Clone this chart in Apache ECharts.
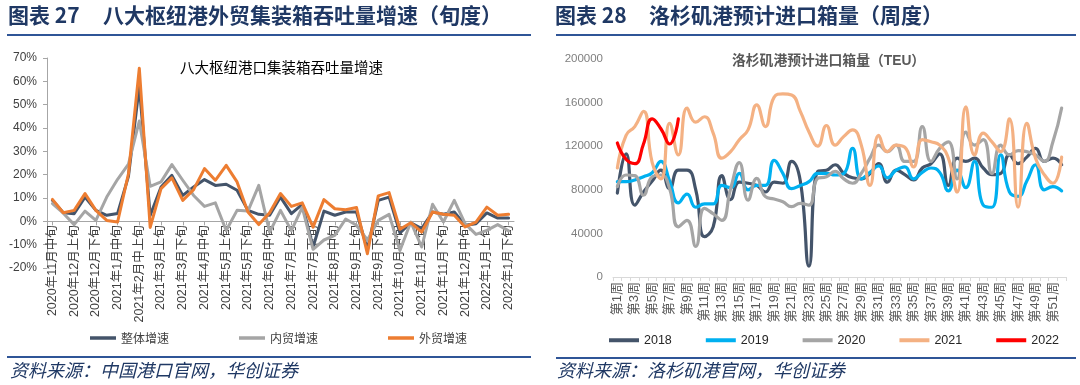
<!DOCTYPE html>
<html>
<head>
<meta charset="utf-8">
<script src="https://cdn.jsdelivr.net/npm/echarts@6/dist/echarts.min.js"></script>
<style>
html,body{margin:0;padding:0;background:#fff;}
#c{width:1080px;height:385px;}
</style>
</head>
<body>
<div id="c"></div>
<script>
// ---------- Left chart data (percent) ----------
const tenDayLabels = [
  '2020年11月中旬','2020年11月下旬','2020年12月上旬','2020年12月中旬','2020年12月下旬',
  '2021年1月上旬','2021年1月中旬','2021年1月下旬','2021年2月中上旬','2021年2月下旬',
  '2021年3月上旬','2021年3月中旬','2021年3月下旬','2021年4月上旬','2021年4月中旬',
  '2021年4月下旬','2021年5月上旬','2021年5月中旬','2021年5月下旬','2021年6月上旬',
  '2021年6月中旬','2021年6月下旬','2021年7月上旬','2021年7月中旬','2021年7月下旬',
  '2021年8月上旬','2021年8月中旬','2021年8月下旬','2021年9月上旬','2021年9月中旬',
  '2021年9月下旬','2021年10月上旬','2021年10月中旬','2021年10月下旬','2021年11月上旬',
  '2021年11月中旬','2021年11月下旬','2021年12月上旬','2021年12月中旬','2021年12月下旬',
  '2022年1月上旬','2022年1月中旬','2022年1月下旬'
];
const overallGrowth = [9, 3.7, 3.3, 10.4, 4.7, 2.6, 3.4, 19.3, 58, 2.5, 14.7, 19.7, 11.1, 14.7, 17.9,
  15.4, 15.9, 13.3, 4.7, 3, 2.6, 10.4, 3.3, 7.3, -11, 4.4, 2.6, 4, 4, -12, 9, 10.4, -5, -0.6, -3.1,
  4, 3, 4, -1.7, -1, 3.6, 1.4, 1.4];
const domesticGrowth = [7.6, 3.5, -1.4, 4.4, 0.4, 10.4, 18, 24.5, 43, 15, 16.9, 24.3, 17.6, 11.1, 6.4,
  7.9, -3.9, 4.7, 4.4, 15.4, -4.6, 4.7, -4, 6, -12, -8, -6, 1, -1.7, -8, 0.4, 3, -12.5, -0.3, -11,
  7.3, -0.3, 9, -1, -5.6, -3.9, -1.4, -4.1];
const foreignGrowth = [9.4, 3.7, 4.7, 11.9, 4.7, 0.4, -0.3, 20.4, 65.6, -2.6, 14, 18.6, 9, 13.6, 22.6,
  17.6, 24, 16.9, 4, -1.4, 3.7, 11.9, 6.4, 7.9, -2.5, 9.3, 5.4, 5, 5.9, -13.9, 10.9, 12.3, -3.4, -0.6, -4.6,
  4, 3, 2.6, -2.4, -0.3, 6.1, 2.6, 3];
const leftSeriesNames = ['整体增速', '内贸增速', '外贸增速'];
const leftYMin = -20, leftYMax = 70, leftYStep = 10;

// ---------- Right chart data (TEU) ----------
const weekLabels = ['第1周','第2周','第3周','第4周','第5周','第6周','第7周','第8周','第9周','第10周',
  '第11周','第12周','第13周','第14周','第15周','第16周','第17周','第18周','第19周','第20周',
  '第21周','第22周','第23周','第24周','第25周','第26周','第27周','第28周','第29周','第30周',
  '第31周','第32周','第33周','第34周','第35周','第36周','第37周','第38周','第39周','第40周',
  '第41周','第42周','第43周','第44周','第45周','第46周','第47周','第48周','第49周','第50周',
  '第51周','第52周'];
const teu2018 = [77000, 113000, 66000, 78000, 88000, 98000, 81000, 98000, 98000, 80000, 37000, 46000, 93000,
  71000, 87000, 86000, 84000, 78000, 87000, 86000, 106000, 88000, 10000, 97000, 98000, 103000,
  95000, 91000, 90000, 95000, 104000, 87000, 98000, 94000, 89000, 100000, 104000, 113000, 84000,
  109000, 106000, 109000, 100000, 94000, 95000, 112000, 104000, 110000, 118000, 106000, 109000, 103000];
const teu2019 = [87500, 87500, 89000, 92000, 95700, 106000, 88000, 68000, 76000, 64000, 67000, 67000, 84000,
  82000, 95000, 80000, 84000, 84000, 107000, 95000, 81000, 84000, 87500, 95000, 95000, 93600,
  95000, 118000, 90000, 96000, 102000, 91000, 98000, 101000, 90000, 96000, 100000, 96000, 79000,
  98000, 82000, 106000, 66000, 64000, 112000, 78000, 74000, 88000, 103000, 80000, 83000, 79000];
const teu2020 = [83000, 93600, 93000, 75000, 92000, 93600, 81000, 46000, 52000, 28000, 63000, 58000, 52000,
  81000, 105000, 70600, 90500, 73700, 71500, 69000, 64500, 67600, 66000, 90500, 92000, 97000,
  90000, 86000, 95000, 109000, 121000, 115000, 121000, 106000, 106000, 138000, 106000, 118000, 124000,
  90000, 133000, 121000, 126000, 95000, 121000, 112000, 116000, 115000, 112000, 106000, 124000, 155000];
const teu2021 = [100000, 130000, 138000, 152000, 105000, 90000, 141000, 112000, 155000, 142000, 147000, 132000, 109000,
  115000, 126000, 135000, 158000, 138000, 165000, 168000, 167000, 152000, 133000, 120000, 139000, 121000,
  129000, 135000, 121000, 84000, 130000, 115000, 121000, 119000, 101000, 126000, 124000, 121000, 109000,
  78000, 156000, 112000, 132000, 124000, 115000, 145000, 64000, 141000, 109000, 94000, 86000, 110000];
const teu2022 = [123000, 108000, 104000, 122000, 145000, 136000, 122000, 145000];
const rightSeriesNames = ['2018', '2019', '2020', '2021', '2022'];
const rightYMin = 0, rightYMax = 200000, rightYStep = 40000;

// ---------- Styles ----------
const FONT = "'Liberation Sans', 'Noto Sans CJK SC', sans-serif";
const CJK = "'Noto Sans CJK SC', sans-serif";
const HEAD = '#1F3864';
const RULE = '#2F5597';
const leftColors = ['#44546A', '#A5A5A5', '#ED7D31'];
const rightColors = ['#44546A', '#00B0F0', '#A5A5A5', '#F4B183', '#FF0000'];

const chart = echarts.init(document.getElementById('c'), null, {renderer: 'canvas'});

function lineSeries(name, data, color, xi, yi, smooth, width) {
  return {
    name, type: 'line', data, xAxisIndex: xi, yAxisIndex: yi,
    smooth: smooth, symbol: 'none', showSymbol: false, clip: false,
    lineStyle: {color, width: width, join: 'round', cap: 'round'},
    itemStyle: {color}, animation: false
  };
}

const option = {
  animation: false,
  textStyle: {fontFamily: FONT},
  grid: [
    {left: 47, top: 58, width: 467, height: 210},
    {left: 613, top: 59, width: 453, height: 218}
  ],
  xAxis: [
    {
      type: 'category', gridIndex: 0, data: tenDayLabels, boundaryGap: true, position: 'bottom',
      offset: -46.7,
      axisLine: {show: true, onZero: false, lineStyle: {color: '#A6A6A6', width: 1}},
      axisTick: {show: true, interval: 1, alignWithLabel: true, length: 4, lineStyle: {color: '#A6A6A6'}},
      axisLabel: {interval: 1, rotate: 90, fontSize: 12.5, color: '#404040', margin: 4, fontFamily: FONT},
      splitLine: {show: false}
    },
    {
      type: 'category', gridIndex: 1, data: weekLabels, boundaryGap: true,
      axisLine: {show: true, lineStyle: {color: '#D9D9D9', width: 1}},
      axisTick: {show: true, interval: 0, length: 4, lineStyle: {color: '#D9D9D9'}},
      axisLabel: {interval: 1, rotate: 90, fontSize: 13, color: '#595959', margin: 5, fontFamily: FONT},
      splitLine: {show: false}
    }
  ],
  yAxis: [
    {
      type: 'value', gridIndex: 0, min: leftYMin, max: leftYMax, interval: leftYStep,
      axisLine: {show: true, lineStyle: {color: '#A6A6A6'}},
      axisTick: {show: true, length: 4, lineStyle: {color: '#A6A6A6'}},
      axisLabel: {formatter: '{value}%', fontSize: 12, color: '#404040', margin: 10, fontFamily: FONT},
      splitLine: {show: false}
    },
    {
      type: 'value', gridIndex: 1, min: rightYMin, max: rightYMax, interval: rightYStep,
      axisLine: {show: false}, axisTick: {show: false},
      axisLabel: {formatter: function (v) { return String(v); }, fontSize: 11.5, color: '#7F7F7F', margin: 10, fontFamily: FONT},
      splitLine: {show: false}
    }
  ],
  legend: [
    {
      data: leftSeriesNames, left: 85, top: 327, orient: 'horizontal',
      icon: 'rect', itemWidth: 26, itemHeight: 3.5, itemGap: 70,
      textStyle: {fontSize: 12, color: '#404040', fontFamily: CJK}
    },
    {
      data: rightSeriesNames, left: 604, top: 329, orient: 'horizontal',
      icon: 'rect', itemWidth: 30, itemHeight: 4, itemGap: 34,
      textStyle: {fontSize: 12.5, color: '#262626', fontFamily: FONT}
    }
  ],
  series: [
    lineSeries(leftSeriesNames[0], overallGrowth, leftColors[0], 0, 0, false, 3),
    lineSeries(leftSeriesNames[1], domesticGrowth, leftColors[1], 0, 0, false, 3),
    lineSeries(leftSeriesNames[2], foreignGrowth, leftColors[2], 0, 0, false, 3),
    lineSeries(rightSeriesNames[0], teu2018, rightColors[0], 1, 1, 0.5, 3.2),
    lineSeries(rightSeriesNames[1], teu2019, rightColors[1], 1, 1, 0.5, 3.2),
    lineSeries(rightSeriesNames[2], teu2020, rightColors[2], 1, 1, 0.5, 3.2),
    lineSeries(rightSeriesNames[3], teu2021, rightColors[3], 1, 1, 0.5, 3.2),
    lineSeries(rightSeriesNames[4], teu2022, rightColors[4], 1, 1, 0.5, 3.2)
  ],
  graphic: [
    {type: 'text', left: 8, top: 5, style: {text: '图表 27', font: 'bold 21px ' + CJK, fill: HEAD}},
    {type: 'text', left: 103, top: 5, style: {text: '八大枢纽港外贸集装箱吞吐量增速（旬度）', font: 'bold 21px ' + CJK, fill: HEAD}},
    {type: 'text', left: 555, top: 5, style: {text: '图表 28', font: 'bold 21px ' + CJK, fill: HEAD}},
    {type: 'text', left: 649, top: 5, style: {text: '洛杉矶港预计进口箱量（周度）', font: 'bold 21px ' + CJK, fill: HEAD}},
    {type: 'line', shape: {x1: 7, y1: 35, x2: 531, y2: 35}, style: {stroke: RULE, lineWidth: 2}},
    {type: 'line', shape: {x1: 556, y1: 35, x2: 1076, y2: 35}, style: {stroke: RULE, lineWidth: 2}},
    {type: 'text', left: 180, top: 60, style: {text: '八大枢纽港口集装箱吞吐量增速', font: '14.5px ' + CJK, fill: '#000'}},
    {type: 'text', left: 732, top: 54, style: {text: '洛杉矶港预计进口箱量（TEU）', font: 'bold 13.8px ' + FONT, fill: '#595959'}},
    {type: 'line', shape: {x1: 7, y1: 357, x2: 531, y2: 357}, style: {stroke: RULE, lineWidth: 2}},
    {type: 'line', shape: {x1: 556, y1: 358, x2: 1076, y2: 358}, style: {stroke: RULE, lineWidth: 2}},
    {type: 'text', left: 10, top: 361, style: {text: '资料来源：中国港口官网，华创证券', font: 'italic 18px ' + CJK, fill: HEAD}},
    {type: 'text', left: 557, top: 361, style: {text: '资料来源：洛杉矶港官网，华创证券', font: 'italic 18px ' + CJK, fill: HEAD}}
  ]
};
chart.setOption(option);
</script>
</body>
</html>
